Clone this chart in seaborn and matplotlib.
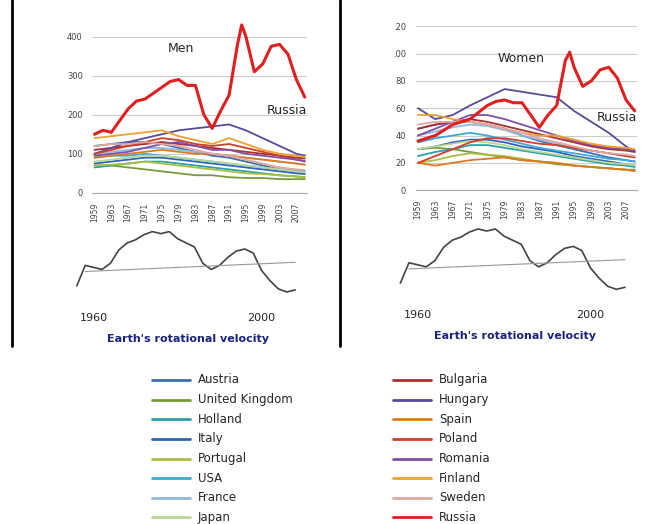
import matplotlib
matplotlib.use("Agg")
import matplotlib.pyplot as plt
import seaborn as sns
import pandas as pd

sns.set_style("white")
plt.rcParams['font.family'] = ['DejaVu Sans']

years = [1959, 1963, 1967, 1971, 1975, 1979, 1983, 1987, 1991, 1995, 1999, 2003, 2007, 2009]
tick_years = [1959, 1963, 1967, 1971, 1975, 1979, 1983, 1987, 1991, 1995, 1999, 2003, 2007]

countries = ["Austria", "United Kingdom", "Holland", "Italy", "Portugal", "USA", "France", "Japan",
             "Bulgaria", "Hungary", "Spain", "Poland", "Romania", "Finland", "Sweden", "Russia"]
colors = ["#3d6fb0", "#7a9a3a", "#2aa0a8", "#2f62c0", "#a8c040", "#40a8d8", "#90b8e0", "#b8d890",
          "#a83030", "#5a4a98", "#e07820", "#d04028", "#8050a8", "#f0a030", "#e0a8a0", "#e02020"]

men = {
    "Austria": [120, 125, 130, 130, 125, 115, 105, 95, 90, 80, 70, 60, 55, 50],
    "United Kingdom": [70, 70, 65, 60, 55, 50, 45, 45, 40, 38, 38, 35, 35, 35],
    "Holland": [65, 70, 75, 80, 80, 75, 70, 65, 60, 55, 50, 45, 42, 40],
    "Italy": [75, 80, 85, 90, 90, 85, 80, 75, 70, 65, 60, 55, 50, 48],
    "Portugal": [70, 72, 75, 80, 75, 70, 65, 60, 55, 50, 48, 45, 42, 40],
    "USA": [90, 95, 95, 100, 95, 90, 85, 80, 75, 70, 65, 60, 58, 55],
    "France": [100, 105, 110, 115, 115, 110, 105, 100, 95, 90, 85, 80, 75, 72],
    "Japan": [80, 85, 90, 95, 95, 90, 85, 80, 75, 70, 65, 60, 55, 52],
    "Bulgaria": [110, 115, 120, 125, 130, 125, 120, 115, 110, 105, 100, 95, 90, 88],
    "Hungary": [100, 115, 130, 140, 150, 160, 165, 170, 175, 160, 140, 120, 100, 95],
    "Spain": [90, 95, 100, 105, 110, 105, 100, 100, 95, 90, 85, 80, 75, 72],
    "Poland": [100, 110, 120, 130, 140, 135, 125, 120, 125, 115, 105, 95, 85, 80],
    "Romania": [95, 100, 105, 115, 125, 130, 120, 110, 110, 100, 95, 90, 85, 82],
    "Finland": [140, 145, 150, 155, 160, 145, 135, 125, 140, 125, 110, 100, 95, 92],
    "Sweden": [120, 125, 125, 130, 125, 120, 110, 100, 95, 85, 75, 65, 60, 58],
}
women = {
    "Austria": [45, 48, 50, 50, 48, 45, 40, 36, 33, 30, 27, 24, 22, 21],
    "United Kingdom": [30, 31, 30, 28, 26, 24, 22, 21, 19, 18, 17, 16, 15, 15],
    "Holland": [25, 28, 30, 33, 33, 31, 29, 27, 25, 23, 21, 19, 18, 17],
    "Italy": [30, 32, 35, 37, 37, 35, 32, 30, 28, 25, 23, 21, 19, 18],
    "Portugal": [20, 22, 25, 27, 26, 25, 23, 21, 20, 18, 17, 16, 15, 14],
    "USA": [35, 38, 40, 42, 40, 37, 34, 31, 29, 27, 25, 23, 22, 21],
    "France": [40, 43, 46, 48, 47, 44, 40, 37, 34, 31, 29, 27, 25, 24],
    "Japan": [30, 32, 34, 36, 35, 33, 30, 28, 26, 24, 22, 20, 19, 18],
    "Bulgaria": [45, 48, 50, 52, 50, 47, 44, 41, 38, 35, 32, 30, 29, 28],
    "Hungary": [60, 52, 55, 62, 68, 74, 72, 70, 68, 58, 50, 42, 32, 28],
    "Spain": [20, 18, 20, 22, 23, 24, 22, 21, 20, 18, 17, 16, 15, 14],
    "Poland": [20, 25, 30, 35, 38, 38, 36, 34, 33, 31, 29, 27, 25, 24],
    "Romania": [40, 45, 50, 55, 55, 52, 48, 44, 40, 36, 33, 31, 30, 29],
    "Finland": [55, 55, 52, 50, 48, 45, 42, 40, 40, 37, 34, 32, 31, 30],
    "Sweden": [48, 50, 50, 50, 48, 45, 42, 38, 35, 32, 29, 27, 26, 25],
}

russia_years = [1959, 1961, 1963, 1965, 1967, 1969, 1971, 1973, 1975, 1977, 1979, 1981, 1983, 1985,
                1987, 1989, 1991, 1993, 1994, 1995, 1997, 1999, 2001, 2003, 2005, 2007, 2009]
russia_men = [150, 160, 155, 185, 215, 235, 240, 255, 270, 285, 290, 275, 275, 200,
              165, 210, 250, 380, 430, 400, 310, 330, 375, 380, 355, 290, 245]
russia_women = [36, 38, 40, 44, 48, 50, 52, 57, 62, 65, 66, 64, 64, 55,
                46, 55, 62, 95, 101, 90, 76, 80, 88, 90, 82, 66, 58]

vel_years = [1956, 1958, 1960, 1962, 1964, 1966, 1968, 1970, 1972, 1974, 1976, 1978, 1980, 1982,
             1984, 1986, 1988, 1990, 1992, 1994, 1996, 1998, 2000, 2002, 2004, 2006, 2008]
velocity = [-2.0, 0.0, -0.2, -0.4, 0.2, 1.5, 2.2, 2.5, 3.0, 3.3, 3.1, 3.3, 2.6, 2.2,
            1.8, 0.2, -0.4, 0.0, 0.8, 1.4, 1.6, 1.2, -0.5, -1.5, -2.3, -2.6, -2.4]
trend_years = [1958, 2008]
trend_vals = [-0.6, 0.3]

fig = plt.figure(figsize=(6.6, 5.24), dpi=100)


def panel(rect, data, rus, ylim, yticks, yticklabels, label, lxy):
    ax = fig.add_axes(rect)
    ax.set_zorder(2)
    ax.patch.set_visible(False)
    for c, col in zip(countries[:-1], colors[:-1]):
        df = pd.DataFrame({"year": years, "v": data[c]})
        sns.lineplot(data=df, x="year", y="v", ax=ax, color=col, lw=1.3)
    df = pd.DataFrame({"year": russia_years, "v": rus})
    sns.lineplot(data=df, x="year", y="v", ax=ax, color=colors[-1], lw=2.2)
    ax.set_xlim(1958.5, 2009.5)
    ax.set_ylim(*ylim)
    ax.set_yticks(yticks)
    ax.set_yticklabels(yticklabels, fontsize=6, color="#444")
    ax.set_xticks(tick_years)
    ax.set_xticklabels(tick_years, rotation=90, fontsize=5.5, color="#444")
    ax.grid(axis="y", color="#ccc", lw=0.8)
    for s in ["top", "right", "left"]:
        ax.spines[s].set_visible(False)
    ax.spines["bottom"].set_color("#aaa")
    ax.set_xlabel("")
    ax.set_ylabel("")
    ax.text(lxy[0], lxy[1], label, fontsize=9, transform=ax.transAxes)
    ax.text(1.0, lxy[2], "Russia", fontsize=9, transform=ax.transAxes, ha="right")
    return ax


panel([0.14, 0.632, 0.325, 0.328], men, russia_men, (0, 440), [0, 100, 200, 300, 400],
      ["0", "100", "200", "300", "400"], "Men", (0.35, 0.82, 0.46))
panel([0.63, 0.637, 0.335, 0.313], women, russia_women, (0, 120), [0, 20, 40, 60, 80, 100, 120],
      ["0", "20", "40", "60", "80", ".00", ".20"], "Women", (0.37, 0.78, 0.42))


def vel(rect):
    ax = fig.add_axes(rect)
    ax.patch.set_visible(False)
    df = pd.DataFrame({"year": vel_years, "v": velocity})
    sns.lineplot(data=df, x="year", y="v", ax=ax, color="#444", lw=1.2)
    ax.plot(trend_years, trend_vals, color="#999", lw=0.8)
    ax.set_xlim(1955, 2010)
    ax.set_ylim(-3, 3.4)
    ax.set_xticks([1960, 2000])
    ax.set_xticklabels(["1960", "2000"], fontsize=8)
    ax.tick_params(length=0, pad=12)
    ax.set_yticks([])
    ax.set_xlabel("Earth's rotational velocity", fontsize=8, fontweight="bold", color="#1a237e", labelpad=8)
    ax.set_ylabel("")
    for s in ax.spines.values():
        s.set_visible(False)


vel([0.11, 0.435, 0.35, 0.125])
vel([0.60, 0.44, 0.36, 0.125])

# vertical separators
for x in [0.018, 0.515]:
    fig.add_artist(plt.Line2D([x, x], [0.34, 1.0], color="black", lw=2))

# legend
for i, (c, col) in enumerate(zip(countries, colors)):
    colx = 0.23 if i < 8 else 0.595
    y = 0.275 - (i % 8) * 0.0375
    fig.add_artist(plt.Line2D([colx, colx + 0.058], [y, y], color=col, lw=2))
    fig.text(colx + 0.07, y, c, fontsize=8.5, va="center")

fig.savefig("out.png", dpi=100)
